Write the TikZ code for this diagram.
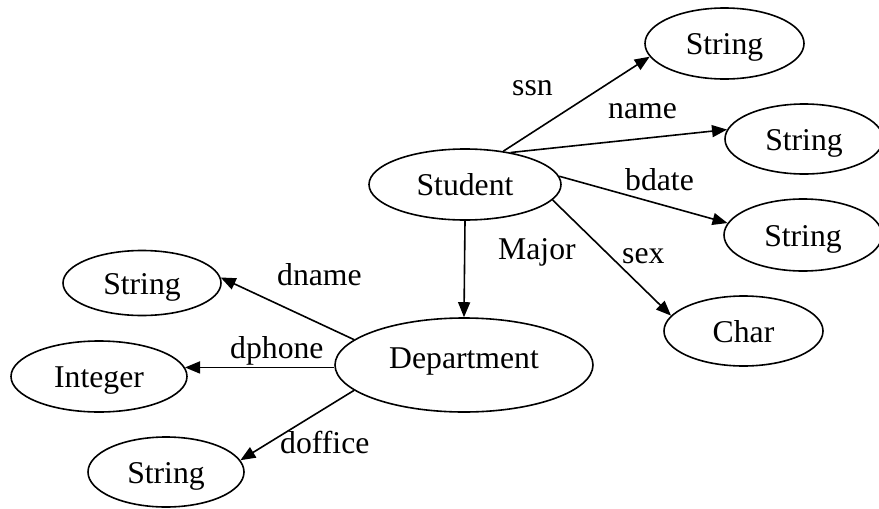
\documentclass[tikz,border=0pt]{standalone}
\usepackage{fontspec}
\setmainfont{Liberation Serif}
\usetikzlibrary{arrows.meta,shapes.geometric}

\begin{document}
\begin{tikzpicture}[x=1pt,y=-1pt,
  every node/.style={font=\fontsize{31.7}{38}\selectfont},
  entity/.style={ellipse, draw, line width=1.6pt, inner sep=0pt,
    text height=22pt, text depth=0pt},
  attr/.style={inner sep=0pt, anchor=base west},
  rel/.style={line width=1.6pt, -{Triangle[length=15pt,width=12pt]}}
]
\useasboundingbox (0,0) rectangle (879,509);

% entity ellipses
\node[entity, minimum width=192pt, minimum height=71pt] (stu) at (465,184.5) {Student};
\node[entity, minimum width=258pt, minimum height=94pt, text depth=16pt] (dep) at (464,365) {Department};
\node[entity, minimum width=159pt, minimum height=71pt] (t1) at (724.5,43.5) {String};
\node[entity, minimum width=158pt, minimum height=70pt] (t2) at (804,139) {String};
\node[entity, minimum width=158pt, minimum height=72pt] (t3) at (803,235) {String};
\node[entity, minimum width=159pt, minimum height=70pt] (chr) at (743.5,331) {Char};
\node[entity, minimum width=158pt, minimum height=65pt] (sl) at (142,283) {String};
\node[entity, minimum width=176pt, minimum height=71pt] (int) at (99,376.5) {Integer};
\node[entity, minimum width=156pt, minimum height=70pt] (sb) at (166,472) {String};

% Student attributes
\draw[rel] (stu.41) -- (t1.190);
\draw[rel] (stu.35) -- (t2.173);
\draw[rel] (stu.5) -- (t3.171);
\draw[rel] (stu.-10) -- (chr.168);
\draw[rel] (stu.south) -- (dep.north);

% Department attributes
\draw[rel] (dep.167) -- (sl.4);
\draw[rel] (dep.west |- int.6) -- (int.6);
\draw[rel] (dep.193) -- (sb.9);

% edge labels
\node[attr] (lssn) at (512,95) {ssn};
\node[attr] (lname) at (608,118) {name};
\node[attr] (lbdate) at (625,190) {bdate};
\node[attr] (lsex) at (622,263) {sex};
\node[attr] (lmajor) at (498,259.5) {Major};
\node[attr] (ldname) at (277,285) {dname};
\node[attr] (ldphone) at (230,358) {dphone};
\node[attr] (ldoffice) at (280,453) {doffice};
\end{tikzpicture}
\end{document}
